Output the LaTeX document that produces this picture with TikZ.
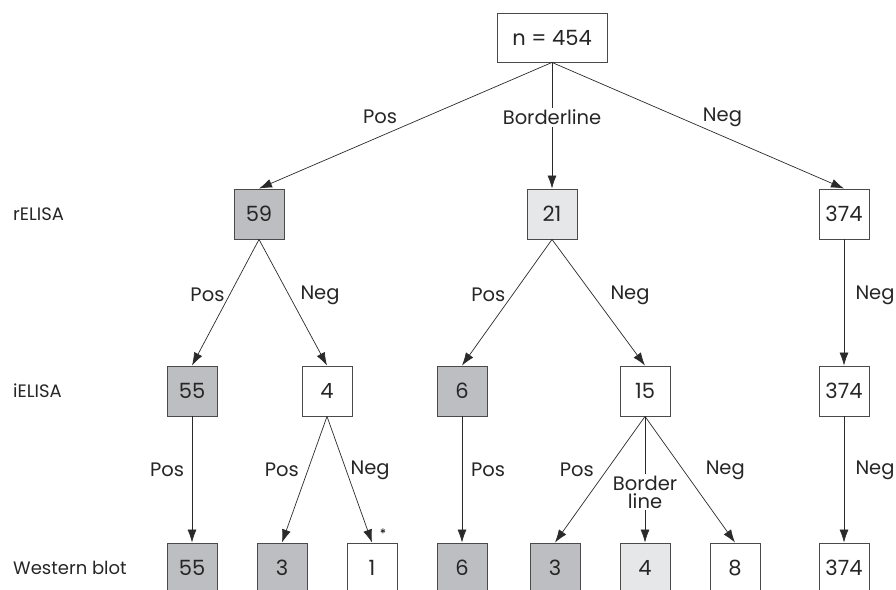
\documentclass[tikz,border=0pt]{standalone}
\usepackage{fontspec}
\setmainfont{Poppins}
\usetikzlibrary{arrows.meta}
\definecolor{darkfill}{HTML}{BDBEC2}
\definecolor{lightfill}{HTML}{E6E7E8}
\definecolor{edgecol}{HTML}{2A2A2A}
\definecolor{boxline}{HTML}{4A4A4A}
\tikzset{
  box/.style={draw=boxline, line width=0.9pt, minimum width=50pt, minimum height=50pt, inner sep=0pt, fill=white, font=\fontsize{21}{24}\selectfont, text=black!85},
  dbox/.style={box, fill=darkfill},
  lbox/.style={box, fill=lightfill},
  conn/.style={draw=edgecol, line width=0.7pt, -{Latex[length=13pt,width=9pt]}},
  lbl/.style={font=\fontsize{19.5}{22}\selectfont, text=black!85, inner sep=1pt},
  rowlbl/.style={font=\fontsize{18}{21}\selectfont, text=black!85, anchor=west, inner sep=0pt}
}
\begin{document}
\begin{tikzpicture}[x=1pt,y=-1pt]
\useasboundingbox (0,0) rectangle (896,589);
\clip (0,0) rectangle (896,589);
% row labels
\node[rowlbl] (rl1) at (13,214) {rELISA};
\node[rowlbl] (rl2) at (13,391) {iELISA};
\node[rowlbl] (rl3) at (13,568) {Western blot};
% nodes
\node[box, minimum width=110pt, minimum height=49pt] (top) at (552,37.5) {n = 454};
\node[dbox] (a59) at (259,214) {59};
\node[lbox] (a21) at (552,214) {21};
\node[box] (a374) at (844,214) {374};
\node[dbox] (b55) at (192,391) {55};
\node[box] (b4) at (327,391) {4};
\node[dbox] (b6) at (462,391) {6};
\node[box] (b15) at (645,391) {15};
\node[box] (b374) at (844,391) {374};
\node[dbox] (c55) at (192,568) {55};
\node[dbox] (c3a) at (282,568) {3};
\node[box] (c1) at (372,568) {1};
\node[dbox] (c6) at (462,568) {6};
\node[dbox] (c3b) at (555,568) {3};
\node[lbox] (c4) at (645,568) {4};
\node[box] (c8) at (735,568) {8};
\node[box] (c374) at (844,568) {374};
\node[font=\fontsize{13}{15}\selectfont, inner sep=0pt] (ast) at (383,534) {*};
% level 1
\draw[conn] (top.south) -- (a59.north) node[lbl, pos=0.433, xshift=-45pt] {Pos};
\draw[conn] (top.south) -- (a21.north) node[lbl, pos=0.433, fill=white, inner sep=2pt] {Borderline};
\draw[conn] (top.south) -- (a374.north) node[lbl, pos=0.433, xshift=44pt] {Neg};
% level 2
\draw[conn] (a59.south) -- (b55.north) node[lbl, pos=0.441, xshift=-22pt] {Pos};
\draw[conn] (a59.south) -- (b4.north) node[lbl, pos=0.441, xshift=31pt] {Neg};
\draw[conn] (a21.south) -- (b6.north) node[lbl, pos=0.441, xshift=-24pt] {Pos};
\draw[conn] (a21.south) -- (b15.north) node[lbl, pos=0.441, xshift=37pt] {Neg};
\draw[conn] (a374.south) -- (b374.north) node[lbl, pos=0.441, xshift=31pt] {Neg};
% level 3
\draw[conn] (b55.south) -- (c55.north) node[lbl, pos=0.425, xshift=-25pt] {Pos};
\draw[conn] (b4.south) -- (c3a.north) node[lbl, pos=0.425, xshift=-26pt] {Pos};
\draw[conn] (b4.south) -- (c1.north) node[lbl, pos=0.425, xshift=24pt] {Neg};
\draw[conn] (b6.south) -- (c6.north) node[lbl, pos=0.425, xshift=26pt] {Pos};
\draw[conn] (b15.south) -- (c3b.north) node[lbl, pos=0.425, xshift=-30pt] {Pos};
\draw[conn] (b15.south) -- (c4.north) node[lbl, pos=0.6, fill=white, align=center, inner sep=2pt] {Border\\[-4pt]line};
\draw[conn] (b15.south) -- (c8.north) node[lbl, pos=0.425, xshift=42pt] {Neg};
\draw[conn] (b374.south) -- (c374.north) node[lbl, pos=0.425, xshift=31pt] {Neg};
\end{tikzpicture}
\end{document}
